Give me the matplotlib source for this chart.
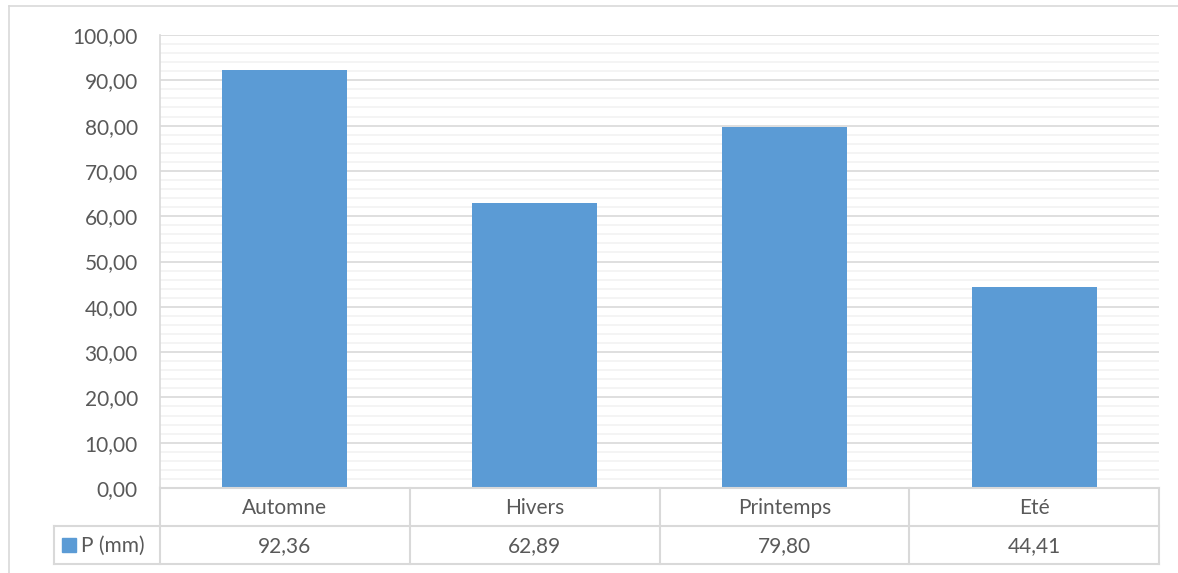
import numpy as np
import matplotlib.pyplot as plt
from matplotlib.lines import Line2D
from matplotlib.patches import Rectangle

# seasonal precipitation
saisons = ['Automne', 'Hivers', 'Printemps', 'Eté']
pluie = [92.36, 62.89, 79.80, 44.41]
serie = 'P (mm)'

bleu = '#5B9BD5'
gris_txt = '#595959'
gris_maj = '#D9D9D9'
gris_min = '#F2F2F2'
fs = 15

plt.rcParams['font.family'] = ['Lato', 'DejaVu Sans']

W, H = 1178, 573
fig = plt.figure(figsize=(W / 100, H / 100), dpi=100)

def box(x0, y0, x1, y1):
    # pixel coords (top-left origin) -> figure fraction
    return [x0 / W, 1 - y1 / H, (x1 - x0) / W, (y1 - y0) / H]

def virgule(v):
    return ('%.2f' % v).replace('.', ',')

# outer chart border
fig.add_artist(Line2D([9 / W, 9 / W], [0, 1 - 6 / H], color=gris_maj, lw=1.2))
fig.add_artist(Line2D([9 / W, 1], [1 - 6 / H, 1 - 6 / H], color=gris_maj, lw=1.2))

ax = fig.add_axes(box(160, 35, 1159, 488))
x = np.arange(len(saisons))

# minor and major gridlines
for v in np.arange(0, 100.1, 2):
    if v % 10:
        ax.axhline(v, color=gris_min, lw=1.2, zorder=0)
for v in np.arange(10, 100.1, 10):
    ax.axhline(v, color=gris_maj, lw=1.2, zorder=1)

ax.bar(x, pluie, width=0.5, color=bleu, zorder=2)

ax.set_xlim(-0.5, len(saisons) - 0.5)
ax.set_ylim(0, 100)
yt = np.arange(0, 101, 10)
ax.set_yticks(yt)
ax.set_yticklabels([virgule(v) for v in yt], fontsize=fs, color=gris_txt)
ax.tick_params(axis='y', length=0, pad=16)
ax.set_xticks([])
for s in ['top', 'right', 'bottom']:
    ax.spines[s].set_visible(False)
ax.spines['left'].set_color(gris_maj)
ax.spines['left'].set_linewidth(1.2)

# data table under the plot
tab = fig.add_axes(box(54, 488, 1159, 564))
x_left = -0.5 - 106 / 249.75
tab.set_xlim(x_left, len(saisons) - 0.5)
tab.set_ylim(2, 0)
tab.axis('off')
kw = dict(color=gris_maj, lw=1.5, clip_on=False)
tab.plot([-0.5, 3.5], [0, 0], **kw)
tab.plot([x_left, 3.5], [1, 1], **kw)
tab.plot([x_left, 3.5], [2, 2], **kw)
tab.plot([x_left, x_left], [1, 2], **kw)
for b in np.arange(-0.5, len(saisons), 1.0):
    tab.plot([b, b], [0, 2], **kw)

for i, (s, p) in enumerate(zip(saisons, pluie)):
    tab.text(i, 0.52, s, ha='center', va='center', fontsize=fs, color=gris_txt)
    tab.text(i, 1.52, virgule(p), ha='center', va='center', fontsize=fs,
             color=gris_txt)

# legend key in the first column
tab.add_patch(Rectangle((x_left + 0.032, 1.31), 0.056, 0.37, color=bleu,
                        clip_on=False))
tab.text(x_left + 0.11, 1.52, serie, ha='left', va='center', fontsize=fs,
         color=gris_txt)

fig.savefig('out.png', dpi=100)
